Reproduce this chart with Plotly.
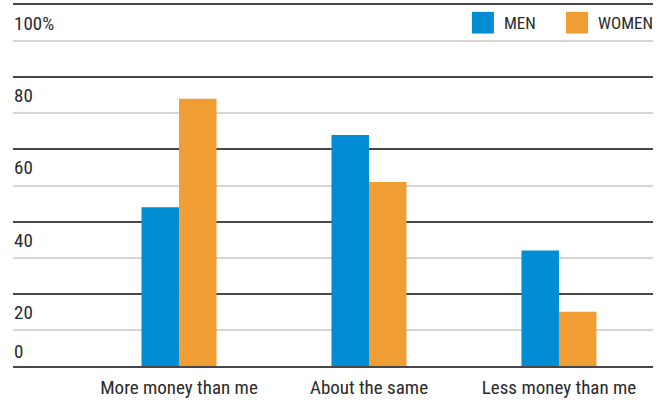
import plotly.graph_objects as go

categories = ['More money than me', 'About the same', 'Less money than me']
men = [44, 64, 32]
women = [74, 51, 15]
y_label_vals = [20, 40, 60, 80, 100]
y_label_text = ['20', '40', '60', '80', '100%']

blue = '#008dd4'
orange = '#f09e33'
dark = '#474747'
light = '#d6d6d6'
text_color = '#2a2a2a'
font_family = 'Roboto Condensed, DejaVu Sans Condensed, sans-serif'

fig = go.Figure()
fig.add_trace(go.Bar(x=categories, y=men, name='MEN', marker=dict(color=blue, line=dict(width=0))))
fig.add_trace(go.Bar(x=categories, y=women, name='WOMEN', marker=dict(color=orange, line=dict(width=0))))

fig.update_layout(
    width=665, height=402,
    margin=dict(l=13, r=12, t=3, b=34),
    paper_bgcolor='white', plot_bgcolor='white',
    barmode='group', bargap=0.605, bargroupgap=0,
    showlegend=False,
    font=dict(family=font_family, size=19, color=text_color),
    # x axis line mirrored gives the dark rules at 0 and 100
    xaxis=dict(
        range=[-0.874, 2.495],
        showgrid=False, zeroline=False,
        showline=True, mirror=True, linecolor=dark, linewidth=2,
        ticks='', tickfont=dict(size=19), ticklabelstandoff=3,
    ),
    yaxis=dict(
        range=[0, 100],
        showticklabels=False, ticks='',
        zeroline=False, showline=False,
        showgrid=True, dtick=20, tick0=0, gridcolor=dark, gridwidth=2,
        minor=dict(dtick=10, tick0=0, showgrid=True, gridcolor=light, gridwidth=2),
    ),
)

# y labels sit just below their dark gridlines, except the 0 which sits above the baseline
for v, t in zip(y_label_vals, y_label_text):
    fig.add_annotation(x=0, xref='paper', y=v, yref='y', text=t, showarrow=False,
                       xanchor='left', yanchor='top', xshift=-1, yshift=-5)
fig.add_annotation(x=0, xref='paper', y=0, yref='y', text='0', showarrow=False,
                   xanchor='left', yanchor='bottom', xshift=-1, yshift=1)

# legend drawn by hand to get the large square swatches
legend_items = [('MEN', blue, 0.717), ('WOMEN', orange, 0.864)]
for name, color, x0 in legend_items:
    fig.add_shape(type='rect', xref='paper', yref='paper', x0=x0, x1=x0 + 0.0344,
                  y0=0.921, y1=0.981, fillcolor=color, line=dict(width=0))
    fig.add_annotation(x=x0 + 0.047, xref='paper', y=0.951, yref='paper', text=name,
                       showarrow=False, xanchor='left', yanchor='middle',
                       font=dict(size=17, color=text_color))

fig.write_html('out.html', config={'displayModeBar': False},
               post_script="document.body.style.margin='0';")
